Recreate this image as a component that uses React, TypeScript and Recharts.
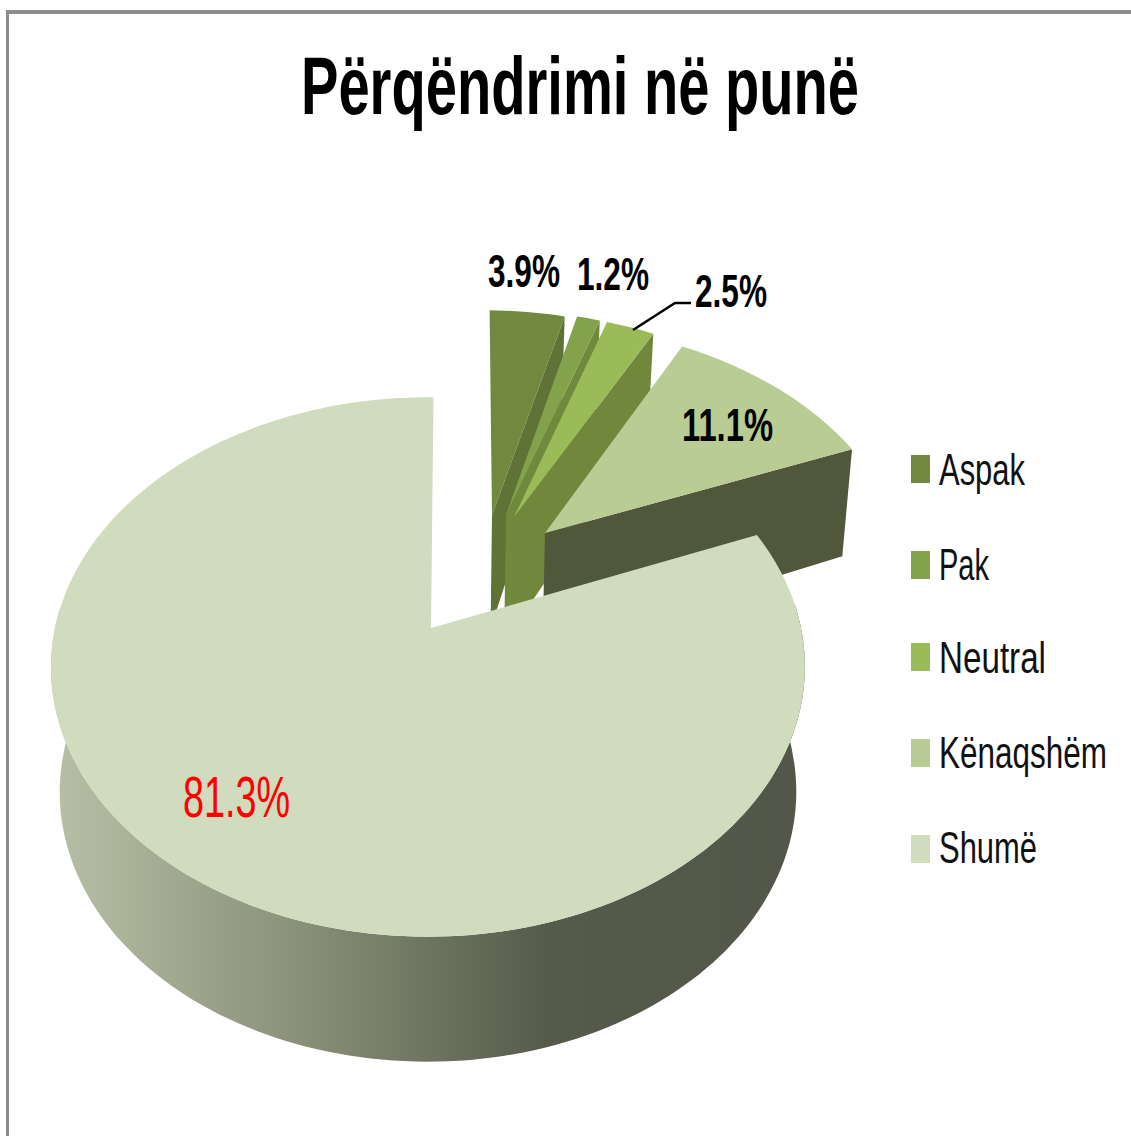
import React from "react";
import { PieChart, Pie, Legend } from "recharts";

const categories = ["Aspak", "Pak", "Neutral", "Kënaqshëm", "Shumë"];
const shares = [3.9, 1.2, 2.5, 11.1, 81.3];

const topColors = ["#71893f", "#84a14b", "#9bbb59", "#b9cc94", "#d1dbbd"];
const wallColors = ["#5e7335", "#6f8a3d", "#70873c", "#50573b", "url(#wallShade)"];

// where each exploded slice has its tip on screen
const sliceTips = [
  [492, 515],
  [506, 515],
  [514, 517],
  [545, 533],
  [431, 628],
];
// the big slice's rim sits a little left of its tip
const rimShifts = [0, 0, 0, 0, -3];

// label box: x, baseline, width, font size (the source image is stretched upwards, hence stretch)
const labelBoxes = [
  { x: 488, y: 287, w: 72, size: 38, stretch: 1.21, color: "#000", weight: 700 },
  { x: 577, y: 290, w: 72, size: 38, stretch: 1.21, color: "#000", weight: 700 },
  { x: 695, y: 307, w: 72, size: 38, stretch: 1.21, color: "#000", weight: 700 },
  { x: 682, y: 441, w: 91, size: 38, stretch: 1.21, color: "#000", weight: 700 },
  { x: 183, y: 817, w: 107, size: 46, stretch: 1.26, color: "#ff0000", weight: 400 },
];

const legendWidths = [86, 50, 107, 168, 98];
const legendBaselines = [45, 140, 233, 328, 423];
const legendBoxTops = [15, 111, 203, 299, 395];

const tableData = categories.map((name, i) => ({
  name,
  value: shares[i],
  fill: topColors[i],
}));

const CX = 431;
const CY = 628;
const R = 373;
const TILT = 0.708;
const PERSP = 0.1445 / R;
const DEPTH = 125;
const BOTTOM_SCALE = 0.977;
const FIRST_ANGLE = 89.1;
const FONT = "'Liberation Sans Narrow', 'Liberation Sans', sans-serif";

// screen tip -> shift in the pie's own plane
function planeShift(tip: number[]) {
  const up = CY - tip[1];
  const oy = up / (TILT - PERSP * up);
  const ox = (tip[0] - CX) * (1 + PERSP * oy);
  return [ox, oy];
}

function project(x: number, y: number, bottom: boolean) {
  const s = 1 / (1 + PERSP * y);
  if (!bottom) return [CX + x * s, CY - TILT * y * s];
  return [CX + BOTTOM_SCALE * x * s, CY - TILT * y * s + DEPTH * Math.pow(Math.min(1, s), 1.5)];
}

function toPath(points: number[][]) {
  return points.map((p, i) => `${i ? "L" : "M"}${p[0].toFixed(1)},${p[1].toFixed(1)}`).join(" ") + " Z";
}

function Slice3D(props: any) {
  const { startAngle, endAngle, outerRadius, payload, name } = props;
  const idx = categories.indexOf(name ?? payload?.name);
  const [ox, oy] = planeShift(sliceTips[idx]);
  const steps = Math.max(4, Math.ceil(Math.abs(endAngle - startAngle) / 1.5));
  const angles: number[] = [];
  for (let i = 0; i <= steps; i++) {
    angles.push(((startAngle + ((endAngle - startAngle) * i) / steps) * Math.PI) / 180);
  }
  const rim = (a: number, bottom: boolean) =>
    project(ox + rimShifts[idx] + outerRadius * Math.cos(a), oy + outerRadius * Math.sin(a), bottom);
  const topRing = angles.map((a) => rim(a, false));
  const front = angles.filter((a) => Math.sin(a) < 0.1);
  const tipTop = project(ox, oy, false);
  const tipBot = project(ox, oy, true);
  const endTop = topRing[steps];
  const endBot = rim(angles[steps], true);
  return (
    <g>
      {idx < 4 && <path d={toPath([tipTop, endTop, endBot, tipBot])} fill={wallColors[idx]} />}
      {front.length > 1 && (
        <path
          d={toPath([
            ...front.map((a) => rim(a, false)),
            ...front.slice().reverse().map((a) => rim(a, true)),
          ])}
          fill={wallColors[idx]}
        />
      )}
      <path d={toPath([tipTop, ...topRing])} fill={topColors[idx]} />
    </g>
  );
}

function SliceLabel(props: any) {
  const idx = categories.indexOf(props.name ?? props.payload?.name);
  const box = labelBoxes[idx];
  return (
    <g>
      {idx === 2 && (
        <polyline points="633,330 675,303 691,303" fill="none" stroke="#000" strokeWidth={2.5} />
      )}
      <text
        transform={`translate(${box.x},${box.y}) scale(1,${box.stretch})`}
        textLength={box.w}
        lengthAdjust="spacingAndGlyphs"
        fontFamily={FONT}
        fontSize={box.size}
        fontWeight={box.weight}
        fill={box.color}
      >
        {`${shares[idx].toFixed(1)}%`}
      </text>
    </g>
  );
}

function LegendBlock({ payload }: any) {
  return (
    <svg width={241} height={440} style={{ display: "block" }}>
      {(payload ?? []).map((entry: any) => {
        const i = categories.indexOf(entry.value);
        return (
          <g key={entry.value}>
            <rect x={21} y={legendBoxTops[i]} width={19} height={28} fill={topColors[i]} />
            <text
              transform={`translate(49,${legendBaselines[i]}) scale(1,1.19)`}
              textLength={legendWidths[i]}
              lengthAdjust="spacingAndGlyphs"
              fontFamily={FONT}
              fontSize={37}
              fill="#111"
            >
              {entry.value}
            </text>
          </g>
        );
      })}
    </svg>
  );
}

export default function App() {
  return (
    <div style={{ position: "absolute", left: 0, top: 0, width: 1131, height: 1136, background: "#fff", overflow: "hidden" }}>
      <div
        style={{
          position: "absolute",
          left: 6,
          top: 10,
          width: 1125,
          height: 1126,
          boxSizing: "border-box",
          borderLeft: "3px solid #8c8c8c",
          borderTop: "4px solid #8c8c8c",
        }}
      />
      <div style={{ position: "absolute", left: 0, top: 0 }}>
        <PieChart width={1131} height={1136} margin={{ top: 0, right: 0, bottom: 0, left: 0 }}>
          <defs>
            <linearGradient id="wallShade" gradientUnits="userSpaceOnUse" x1={60} y1={0} x2={800} y2={0}>
              <stop offset="0%" stopColor="#b6bfa5" />
              <stop offset="33%" stopColor="#8a8f77" />
              <stop offset="66%" stopColor="#555a4b" />
              <stop offset="100%" stopColor="#525749" />
            </linearGradient>
          </defs>
          <text
            x={301}
            y={114}
            textLength={558}
            lengthAdjust="spacingAndGlyphs"
            fontFamily={FONT}
            fontSize={81}
            fontWeight={700}
            fill="#000"
          >
            Përqëndrimi në punë
          </text>
          <Pie
            data={tableData}
            dataKey="value"
            nameKey="name"
            cx={CX}
            cy={CY}
            outerRadius={R}
            startAngle={FIRST_ANGLE}
            endAngle={FIRST_ANGLE - 360}
            stroke="none"
            shape={Slice3D}
            label={SliceLabel}
            labelLine={false}
            isAnimationActive={false}
          />
          <Legend
            content={LegendBlock}
            itemSorter={null}
            wrapperStyle={{ position: "absolute", left: 890, top: 440, width: 241, height: 440 }}
          />
        </PieChart>
      </div>
    </div>
  );
}
